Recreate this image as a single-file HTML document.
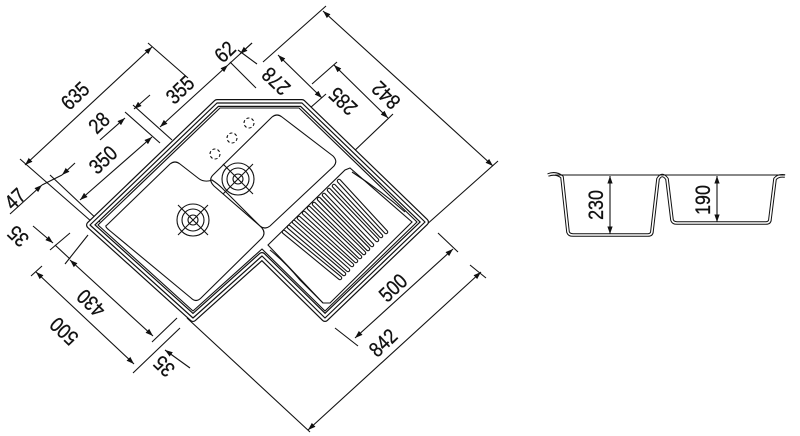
<!DOCTYPE html>
<html><head><meta charset="utf-8"><style>
html,body{margin:0;padding:0;background:#fff;}
svg{display:block;}
text{font-family:"Liberation Sans",Arial,sans-serif;font-size:21px;fill:#111;stroke:#111;stroke-width:0.3;}
</style></head><body>
<svg width="800" height="436" viewBox="0 0 800 436" xmlns="http://www.w3.org/2000/svg">
<defs>
<marker id="a" viewBox="0 0 10 10" refX="10" refY="5" markerWidth="7" markerHeight="7" orient="auto-start-reverse"><path d="M0,1.5 L10,5 L0,8.5 Z" fill="#111"/></marker>
</defs>
<g stroke="#111" stroke-width="1.1" fill="none">
<line x1="25" y1="165" x2="152" y2="47" marker-start="url(#a)" marker-end="url(#a)"/>
<line x1="148" y1="43" x2="188" y2="78"/>
<line x1="20" y1="159" x2="92" y2="222"/>
<line x1="10" y1="214" x2="42" y2="185" marker-end="url(#a)"/>
<line x1="75" y1="163" x2="62" y2="175" marker-end="url(#a)"/>
<line x1="42" y1="185" x2="62" y2="175"/>
<line x1="50" y1="175" x2="100" y2="222"/>
<line x1="80" y1="200" x2="152" y2="137" marker-start="url(#a)" marker-end="url(#a)"/>
<line x1="125" y1="112" x2="160" y2="143"/>
<line x1="133" y1="105" x2="172" y2="140"/>
<line x1="100" y1="140" x2="125" y2="118" marker-end="url(#a)"/>
<line x1="150" y1="95" x2="134" y2="109" marker-end="url(#a)"/>
<line x1="160" y1="127" x2="228" y2="65" marker-start="url(#a)" marker-end="url(#a)"/>
<line x1="228" y1="65" x2="252" y2="43" />
<line x1="230" y1="62" x2="256" y2="88"/>
<line x1="238" y1="50" x2="257" y2="64"/>
<line x1="252" y1="43" x2="240" y2="54" marker-end="url(#a)"/>
<line x1="323" y1="11" x2="493" y2="166" marker-start="url(#a)" marker-end="url(#a)"/>
<line x1="326" y1="6" x2="263" y2="62"/>
<line x1="498" y1="161" x2="425" y2="226"/>
<line x1="278" y1="55" x2="322" y2="98" marker-start="url(#a)" marker-end="url(#a)"/>
<line x1="326" y1="94" x2="310" y2="108"/>
<line x1="334" y1="65" x2="388" y2="118" marker-start="url(#a)" marker-end="url(#a)"/>
<line x1="337" y1="62" x2="312" y2="84"/>
<line x1="393" y1="114" x2="350" y2="155"/>
<line x1="33" y1="226" x2="53" y2="243" marker-end="url(#a)"/>
<line x1="55" y1="245" x2="70" y2="259"/>
<line x1="70" y1="260" x2="153" y2="336" marker-start="url(#a)" marker-end="url(#a)"/>
<line x1="65" y1="264" x2="88" y2="235"/>
<line x1="50" y1="250" x2="70" y2="233"/>
<line x1="36" y1="272" x2="134" y2="364" marker-start="url(#a)" marker-end="url(#a)"/>
<line x1="31" y1="276" x2="42" y2="266"/>
<line x1="152" y1="342" x2="177" y2="318"/>
<line x1="133" y1="373" x2="180" y2="328"/>
<line x1="190" y1="368" x2="165" y2="350" marker-end="url(#a)"/>
<line x1="187" y1="318" x2="310" y2="432"/>
<line x1="308" y1="430" x2="481" y2="272" marker-start="url(#a)" marker-end="url(#a)"/>
<line x1="470" y1="265" x2="486" y2="278"/>
<line x1="355" y1="338" x2="453" y2="249" marker-start="url(#a)" marker-end="url(#a)"/>
<line x1="335" y1="328" x2="358" y2="346"/>
<line x1="438" y1="233" x2="458" y2="252"/>
</g>

<g fill="none" stroke-linejoin="round">
<polygon points="90,225 217,103 302,103 425,222 325,318 262,256 193,318" stroke="#111" stroke-width="8"/>
<polygon points="90,225 217,103 302,103 425,222 325,318 262,256 193,318" stroke="#fff" stroke-width="5.6"/>
<polygon points="90,225 217,103 302,103 425,222 325,318 262,256 193,318" stroke="#111" stroke-width="1.2"/>
<polygon points="98,225 220,108 299,108 417,222 325,311 262,249 193,311" stroke="#111" stroke-width="1.1"/>
</g>
<g fill="none" stroke="#111" stroke-width="1.1">
<path d="M107,225 L170,164 Q175,160 180,164 L198,178 Q204,183 212,180 Q218,184 222,188 L262,228 Q266,233 262,238 L201,298 Q196,303 191,298 L109,230 Q104,226 107,225 Z"/>
<path d="M213,175 L272,117 Q277,113 282,117 L333,156 Q338,161 334,166 L270,226 Q265,230 260,226 L214,186 Q208,180 213,175 Z"/>
<g stroke-dasharray="3,2.2"><circle cx="215" cy="154" r="5"/><circle cx="232" cy="138" r="5"/><circle cx="249" cy="123" r="5"/></g>
<circle cx="193" cy="220" r="16"/><circle cx="193" cy="220" r="11"/><circle cx="193" cy="220" r="5"/>
<line x1="178" y1="205" x2="208" y2="235"/><line x1="208" y1="205" x2="178" y2="235"/>
<circle cx="238" cy="179" r="16"/><circle cx="238" cy="179" r="11"/><circle cx="238" cy="179" r="5"/>
<line x1="223" y1="164" x2="253" y2="194"/><line x1="253" y1="164" x2="223" y2="194"/>
<path d="M268,245 L345,170 L350,168 L412,222 L330,303 L323,303 Z"/>
<path d="M270,250 Q285,262 300,280 L323,303"/>
<path d="M352,172 Q380,190 405,212"/>
</g>
<g stroke-linecap="round" fill="none">
<g stroke="#111" stroke-width="4.5">
<line x1="284" y1="232" x2="340" y2="278"/><line x1="289" y1="227" x2="344" y2="274"/><line x1="294" y1="222" x2="348" y2="270"/><line x1="299" y1="218" x2="352" y2="265"/><line x1="304" y1="213" x2="356" y2="261"/><line x1="309" y1="208" x2="360" y2="257"/><line x1="314" y1="204" x2="364" y2="253"/><line x1="319" y1="199" x2="368" y2="249"/><line x1="324" y1="195" x2="372" y2="245"/><line x1="329" y1="190" x2="377" y2="240"/><line x1="334" y1="186" x2="381" y2="236"/><line x1="339" y1="181" x2="386" y2="232"/>
</g>
<g stroke="#fff" stroke-width="2.3">
<line x1="284" y1="232" x2="340" y2="278"/><line x1="289" y1="227" x2="344" y2="274"/><line x1="294" y1="222" x2="348" y2="270"/><line x1="299" y1="218" x2="352" y2="265"/><line x1="304" y1="213" x2="356" y2="261"/><line x1="309" y1="208" x2="360" y2="257"/><line x1="314" y1="204" x2="364" y2="253"/><line x1="319" y1="199" x2="368" y2="249"/><line x1="324" y1="195" x2="372" y2="245"/><line x1="329" y1="190" x2="377" y2="240"/><line x1="334" y1="186" x2="381" y2="236"/><line x1="339" y1="181" x2="386" y2="232"/>
</g>
</g>

<g fill="none" stroke-linejoin="round">
<path d="M548,175 Q556,172 562,177 L568,232 Q569,235 573,235 L648,235 Q652,235 652,231 L658,179 Q662,172 667,179 L672,220 Q673,223 677,223 L766,223 Q770,223 770,219 L775,179 Q778,175 785,176" stroke="#111" stroke-width="3.6"/>
<path d="M548,175 Q556,172 562,177 L568,232 Q569,235 573,235 L648,235 Q652,235 652,231 L658,179 Q662,172 667,179 L672,220 Q673,223 677,223 L766,223 Q770,223 770,219 L775,179 Q778,175 785,176" stroke="#fff" stroke-width="1.6"/>
<line x1="555" y1="175" x2="785" y2="175" stroke="#111" stroke-width="1.1"/>
</g>
<g stroke="#111" stroke-width="1.1">
<line x1="610" y1="176" x2="610" y2="234" marker-start="url(#a)" marker-end="url(#a)"/>
<line x1="717" y1="176" x2="717" y2="222" marker-start="url(#a)" marker-end="url(#a)"/>
</g>

<g text-anchor="middle">
<text transform="translate(80,101) rotate(-43.5) scale(0.85,1)">635</text>
<text transform="translate(104,128) rotate(-43.5) scale(0.85,1)">28</text>
<text transform="translate(185,95) rotate(-43.5) scale(0.85,1)">355</text>
<text transform="translate(108,165) rotate(-43.5) scale(0.85,1)">350</text>
<text transform="translate(230,57) rotate(-43.5) scale(0.85,1)">62</text>
<text transform="translate(20,204) rotate(-43.5) scale(0.85,1)">47</text>
<text transform="translate(281,76) rotate(223.5) scale(0.85,1)">278</text>
<text transform="translate(348,96) rotate(223.5) scale(0.85,1)">285</text>
<text transform="translate(391,90) rotate(223.5) scale(0.85,1)">842</text>
<text transform="translate(23,231) rotate(223.5) scale(0.85,1)">35</text>
<text transform="translate(96,298) rotate(223.5) scale(0.85,1)">430</text>
<text transform="translate(69,326) rotate(223.5) scale(0.85,1)">500</text>
<text transform="translate(169,361) rotate(223.5) scale(0.85,1)">35</text>
<text transform="translate(398,293) rotate(-43.5) scale(0.85,1)">500</text>
<text transform="translate(388,348) rotate(-43.5) scale(0.85,1)">842</text>
<text transform="translate(603,205) rotate(-90) scale(0.85,1)">230</text>
<text transform="translate(710,200) rotate(-90) scale(0.85,1)">190</text>
</g>
</svg>
</body></html>
